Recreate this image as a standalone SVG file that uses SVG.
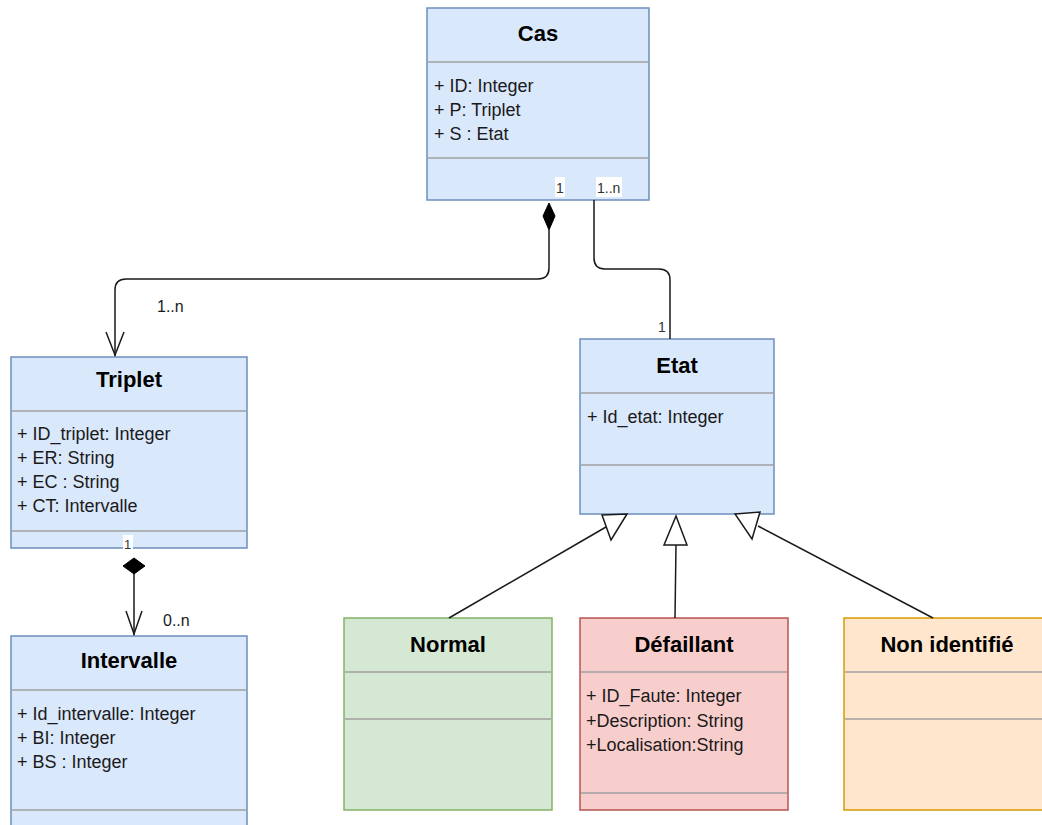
<svg xmlns="http://www.w3.org/2000/svg" width="1042" height="825" viewBox="0 0 1042 825">
<style>
.blue{fill:#dae8fc;stroke:#6c8ebf;stroke-width:1.5}
.green{fill:#d5e8d4;stroke:#82b366;stroke-width:1.5}
.red{fill:#f8cecc;stroke:#b85450;stroke-width:1.5}
.orange{fill:#ffe6cc;stroke:#d79b00;stroke-width:1.5}
.div{stroke:#a0a0a0;stroke-width:1.5}
.title{font-family:"Liberation Sans",Arial,sans-serif;font-size:22px;font-weight:bold;fill:#000;text-anchor:middle}
.attr{font-family:"Liberation Sans",Arial,sans-serif;font-size:18px;fill:#1a1a1a}
.mult{font-family:"Liberation Sans",Arial,sans-serif;font-size:14px;fill:#333}
.multb{font-family:"Liberation Sans",Arial,sans-serif;font-size:16px;fill:#1a1a1a}
.edge{fill:none;stroke:#1a1a1a;stroke-width:1.5}
.open{fill:none;stroke:#1a1a1a;stroke-width:1.5}
.tri{fill:#fff;stroke:#1a1a1a;stroke-width:1.5;stroke-linejoin:miter}
.dia{fill:#000;stroke:#000;stroke-width:1}
</style>
<rect x="0" y="0" width="1042" height="825" fill="#fff"/>

<g id="cas">
<rect class="blue" x="427" y="8" width="222" height="192"/>
<line class="div" x1="428" y1="62" x2="648" y2="62"/>
<line class="div" x1="428" y1="158" x2="648" y2="158"/>
<text class="title" x="538" y="41">Cas</text>
<text class="attr" x="434" y="92">+ ID: Integer</text>
<text class="attr" x="434" y="116">+ P: Triplet</text>
<text class="attr" x="434" y="140">+ S : Etat</text>
</g>

<g id="triplet">
<rect class="blue" x="11" y="357" width="236" height="191"/>
<line class="div" x1="12" y1="411" x2="246" y2="411"/>
<line class="div" x1="12" y1="531" x2="246" y2="531"/>
<text class="title" x="129" y="387">Triplet</text>
<text class="attr" x="17" y="440">+ ID_triplet: Integer</text>
<text class="attr" x="17" y="464">+ ER: String</text>
<text class="attr" x="17" y="488">+ EC : String</text>
<text class="attr" x="17" y="512">+ CT: Intervalle</text>
</g>

<g id="intervalle">
<rect class="blue" x="11" y="636" width="236" height="210"/>
<line class="div" x1="12" y1="690" x2="246" y2="690"/>
<line class="div" x1="12" y1="810" x2="246" y2="810"/>
<text class="title" x="129" y="668">Intervalle</text>
<text class="attr" x="17" y="720">+ Id_intervalle: Integer</text>
<text class="attr" x="17" y="744">+ BI: Integer</text>
<text class="attr" x="17" y="768">+ BS : Integer</text>
</g>

<g id="etat">
<rect class="blue" x="580" y="339" width="194" height="175"/>
<line class="div" x1="581" y1="393" x2="773" y2="393"/>
<line class="div" x1="581" y1="465" x2="773" y2="465"/>
<text class="title" x="677" y="373">Etat</text>
<text class="attr" x="587" y="423">+ Id_etat: Integer</text>
</g>

<g id="normal">
<rect class="green" x="344" y="618" width="208" height="192"/>
<line class="div" x1="345" y1="672" x2="551" y2="672"/>
<line class="div" x1="345" y1="719" x2="551" y2="719"/>
<text class="title" x="448" y="652">Normal</text>
</g>

<g id="defaillant">
<rect class="red" x="580" y="618" width="208" height="192"/>
<line class="div" x1="581" y1="672" x2="787" y2="672"/>
<line class="div" x1="581" y1="793" x2="787" y2="793"/>
<text class="title" x="684" y="652">Défaillant</text>
<text class="attr" x="586" y="702">+ ID_Faute: Integer</text>
<text class="attr" x="586" y="727">+Description: String</text>
<text class="attr" x="586" y="751">+Localisation:String</text>
</g>

<g id="non-identifie">
<rect class="orange" x="844" y="618" width="210" height="192"/>
<line class="div" x1="845" y1="672" x2="1042" y2="672"/>
<line class="div" x1="845" y1="719" x2="1042" y2="719"/>
<text class="title" x="947" y="652">Non identifié</text>
</g>

<g id="connectors">
<!-- Cas -> Triplet (composition) -->
<path class="edge" d="M549 230 V268 Q549 279 538 279 H126 Q115 279 115 290 V356"/>
<polygon class="dia" points="549,203 555,216 549,230 543,216"/>
<polyline class="open" points="106,332 115,355 124,332"/>
<text class="multb" x="157" y="312">1..n</text>
<rect x="555" y="177" width="10" height="20" fill="#fff"/>
<text class="mult" x="556" y="193">1</text>

<!-- Cas -> Etat -->
<path class="edge" d="M594 200 V258 Q594 269 605 269 H659 Q670 269 670 280 V339"/>
<rect x="596" y="177" width="26" height="20" fill="#fff"/>
<text class="mult" x="597" y="193">1..n</text>
<text class="mult" x="658" y="332">1</text>

<!-- Triplet -> Intervalle (composition) -->
<line class="edge" x1="134" y1="573" x2="134" y2="635"/>
<polygon class="dia" points="134,558 145,566 134,574 123,566"/>
<polyline class="open" points="126,611 134,634 142,611"/>
<rect x="123" y="535" width="10" height="15" fill="#fff"/>
<text class="mult" x="124" y="549" style="font-size:13px">1</text>
<text class="multb" x="163" y="626">0..n</text>

<!-- Generalizations -->
<line class="edge" x1="449" y1="618" x2="606" y2="527"/>
<polygon class="tri" points="602,515 627,514 611,540"/>
<line class="edge" x1="675" y1="618" x2="676" y2="545"/>
<polygon class="tri" points="676,516 687,545 664,545"/>
<line class="edge" x1="933" y1="618" x2="758" y2="526"/>
<polygon class="tri" points="735,514 760,512 752,539"/>
</g>
</svg>
